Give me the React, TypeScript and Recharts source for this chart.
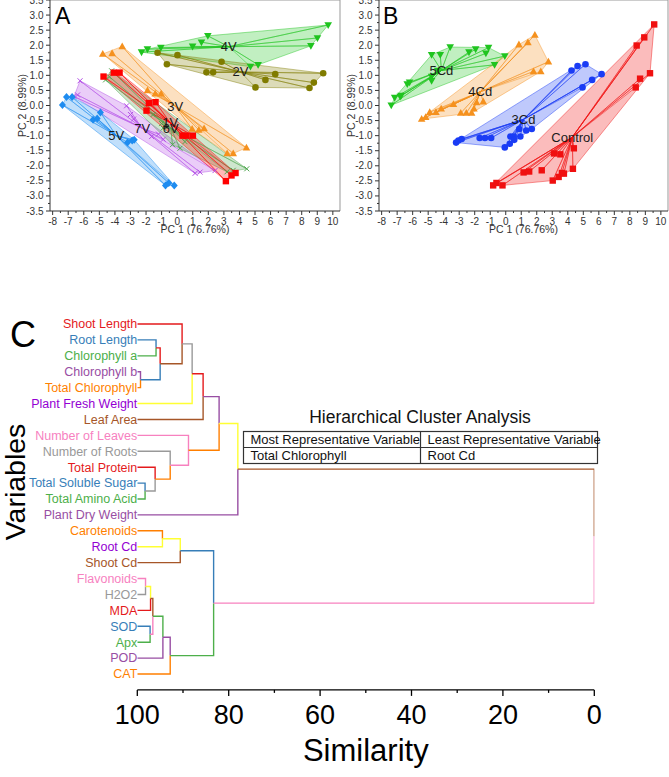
import React from 'react';
import { ScatterChart, Scatter, XAxis, YAxis, ReferenceLine, Label } from 'recharts';

type Pt = [number, number];

const FONT = '"Liberation Sans", Arial, Helvetica, sans-serif';

// ---------- PCA axes ----------
const pc1MajorTicks = [-8, -7, -6, -5, -4, -3, -2, -1, 0, 1, 2, 3, 4, 5, 6, 7, 8, 9, 10];
const pc2MajorTicks = [-3.5, -3, -2.5, -2, -1.5, -1, -0.5, 0, 0.5, 1, 1.5, 2, 2.5, 3, 3.5];
const pc1Domain: [number, number] = [-8.17, 10.46];
const pc2Domain: [number, number] = [-3.5, 3.5];
const pc1Title = 'PC 1 (76.76%)';
const pc2Title = 'PC 2 (8.99%)';

// ---------- Panel A (varieties) ----------
const a4V: Pt[] = [[-2.29, 1.77], [-1.91, 1.87], [-1.05, 1.92], [0.99, 1.96], [1.56, 2.10], [1.97, 2.31], [9.70, 2.67], [9.01, 2.24], [8.59, 1.98], [5.20, 1.35], [4.71, 1.29]];
const a2V: Pt[] = [[-1.26, 1.75], [0.02, 1.67], [-0.66, 1.37], [2.85, 1.45], [1.88, 1.10], [2.31, 1.10], [5.67, 0.85], [6.30, 1.04], [9.38, 1.07], [8.78, 0.76], [8.50, 0.58], [5.03, 0.60]];
const a3V: Pt[] = [[-4.78, 1.71], [-4.18, 1.73], [-3.53, 1.96], [-1.91, 0.50], [-1.41, 0.39], [-1.03, 0.39], [0.96, -0.78], [1.39, -0.81], [1.73, -0.76], [4.45, -1.40], [3.60, -1.59], [3.21, -1.59]];
const a1V: Pt[] = [[-4.73, 0.96], [-4.07, 1.09], [-3.70, 1.09], [-1.82, 0.08], [-1.97, -0.17], [-1.39, 0.11], [0.34, -1.00], [0.60, -1.00], [1.01, -1.00], [3.13, -2.51], [3.49, -2.32], [3.75, -2.24]];
const a6V: Pt[] = [[-4.21, 1.15], [-4.60, 0.85], [-4.35, 0.95], [-1.55, -0.30], [-1.00, -0.60], [-0.90, -0.75], [0.18, -1.42], [-0.30, -1.30], [0.50, -1.20], [4.47, -2.10], [3.60, -2.15], [3.20, -2.20]];
const a7V: Pt[] = [[-6.24, 0.82], [-6.63, 0.30], [-6.40, 0.35], [-3.25, -0.01], [-3.00, -0.30], [-2.80, -0.45], [-1.64, -1.03], [-0.89, -1.12], [-1.20, -0.95], [1.15, -2.25], [1.47, -2.21], [2.43, -2.16]];
const a5V: Pt[] = [[-7.37, 0.02], [-7.11, 0.28], [-6.75, 0.28], [-5.40, -0.47], [-5.14, -0.43], [-4.93, -0.23], [-3.19, -1.23], [-2.89, -1.16], [-2.76, -1.14], [-0.75, -2.65], [-0.54, -2.57], [-0.19, -2.65]];

// ---------- Panel B (Cd treatments) ----------
const b5Cd: Pt[] = [[-7.38, 0.01], [-7.16, 0.26], [-6.80, 0.30], [-6.74, 0.33], [-6.35, 0.71], [-6.20, 0.77], [-4.78, 1.68], [-4.22, 1.68], [-3.58, 1.94], [-2.37, 1.77], [-1.94, 1.87], [-1.28, 1.73], [-1.11, 1.92], [-0.72, 1.35], [-0.06, 1.64], [-4.78, 0.96], [-4.78, 0.82], [-4.39, 1.16]];
const b4Cd: Pt[] = [[-5.42, -0.45], [-5.16, -0.39], [-4.90, -0.22], [-4.50, -0.22], [-4.16, -0.11], [-3.37, 0.04], [-2.90, -0.25], [-2.54, -0.25], [-2.20, -0.25], [-2.05, -0.11], [-1.88, 0.10], [-1.45, 0.13], [0.85, 2.02], [1.43, 2.09], [1.88, 2.34], [2.75, 1.45], [1.79, 1.13], [2.26, 1.13]];
const b3Cd: Pt[] = [[-3.20, -1.23], [-3.05, -1.16], [-2.84, -1.11], [-1.68, -1.08], [-1.34, -1.08], [-0.94, -1.08], [-0.06, -1.39], [0.26, -1.27], [0.30, -1.03], [0.51, -1.03], [0.55, -1.14], [0.87, -0.78], [1.32, -0.83], [1.68, -0.78], [0.94, -1.03], [4.24, 1.16], [4.63, 1.31], [5.14, 1.37], [6.18, 1.04], [5.57, 0.85], [4.95, 0.60]];
const bControl: Pt[] = [[-0.81, -2.65], [-0.60, -2.57], [-0.21, -2.65], [1.15, -2.22], [1.51, -2.19], [2.32, -2.15], [3.11, -1.59], [3.52, -1.62], [4.39, -1.42], [4.33, -2.10], [3.03, -2.49], [3.41, -2.37], [3.62, -2.24], [3.75, -2.26], [8.44, 1.99], [8.93, 2.26], [9.57, 2.69], [9.30, 1.07], [8.66, 0.89], [8.38, 0.60]];

type Group = { name: string; points: Pt[]; color: string; marker: string };

const panelAGroups: Group[] = [
  { name: '4V', points: a4V, color: '#1fc41f', marker: 'tdown' },
  { name: '2V', points: a2V, color: '#807c00', marker: 'circle' },
  { name: '3V', points: a3V, color: '#f5911e', marker: 'tup' },
  { name: '7V', points: a7V, color: '#b24ce6', marker: 'x' },
  { name: '6V', points: a6V, color: '#4fa64f', marker: 'x' },
  { name: '1V', points: a1V, color: '#ff0000', marker: 'square' },
  { name: '5V', points: a5V, color: '#1e8cf0', marker: 'diamond' },
];

const panelBGroups: Group[] = [
  { name: '5Cd', points: b5Cd, color: '#1fc41f', marker: 'tdown' },
  { name: '4Cd', points: b4Cd, color: '#f5911e', marker: 'tup' },
  { name: '3Cd', points: b3Cd, color: '#1a3cf5', marker: 'circle' },
  { name: 'Control', points: bControl, color: '#f01010', marker: 'square' },
];

// ---------- Dendrogram ----------
const leafNames = ['Shoot Length', 'Root Length', 'Chlorophyll a', 'Chlorophyll b', 'Total Chlorophyll', 'Plant Fresh Weight', 'Leaf Area', 'Number of Leaves', 'Number of Roots', 'Total Protein', 'Total Soluble Sugar', 'Total Amino Acid', 'Plant Dry Weight', 'Carotenoids', 'Root Cd', 'Shoot Cd', 'Flavonoids', 'H2O2', 'MDA', 'SOD', 'Apx', 'POD', 'CAT'];
const RED = '#e41a1c', BLUE = '#377eb8', GREEN = '#4daf4a', PURPLE = '#984ea3', ORANGE = '#ff7f00', YELLOW = '#ffff33', BROWN = '#a65628', PINK = '#f781bf', GREY = '#999999', VIOLET = '#9400d3';
const leafLabelColors = [RED, BLUE, GREEN, PURPLE, ORANGE, VIOLET, BROWN, PINK, GREY, RED, BLUE, GREEN, PURPLE, ORANGE, VIOLET, BROWN, PINK, GREY, RED, BLUE, GREEN, PURPLE, ORANGE];
const leafLegColors = [RED, BLUE, GREEN, PURPLE, ORANGE, YELLOW, BROWN, PINK, GREY, RED, BLUE, GREEN, PURPLE, ORANGE, YELLOW, BROWN, PINK, GREY, RED, BLUE, GREEN, PURPLE, ORANGE];
// [childA, childB, similarity] ; new node ids start at 23
const merges: [number, number, number][] = [
  [1, 2, 95.9], [3, 4, 99.3], [23, 24, 95.0], [0, 25, 90.2], [26, 5, 88.0], [27, 6, 85.6],
  [10, 11, 98.3], [9, 29, 96.1], [8, 30, 92.8], [7, 31, 88.8], [28, 32, 82.1], [33, 12, 78.0],
  [13, 14, 94.5], [35, 15, 90.6], [16, 17, 98.2], [37, 18, 97.1], [19, 20, 97.2], [38, 39, 96.6],
  [40, 21, 94.4], [41, 22, 92.8], [36, 42, 83.3], [34, 43, 0],
];
const mergeColors = [RED, BLUE, BROWN, GREY, RED, PURPLE, GREY, ORANGE, PINK, ORANGE, YELLOW, BROWN, YELLOW, BLUE, YELLOW, BROWN, PINK, GREEN, PURPLE, GREEN, PINK, ''];
const simMajorTicks = [0, 20, 40, 60, 80, 100];
const simAllTicks = [0, 10, 20, 30, 40, 50, 60, 70, 80, 90, 100];
const tableHeaders = ['Most Representative Variable', 'Least Representative Variable'];
const tableValues = ['Total Chlorophyll', 'Root Cd'];

// ---------- helpers ----------
function convexHull(pts: Pt[]): Pt[] {
  const s = [...pts].sort((a, b) => a[0] - b[0] || a[1] - b[1]);
  const cross = (o: Pt, a: Pt, b: Pt) => (a[0] - o[0]) * (b[1] - o[1]) - (a[1] - o[1]) * (b[0] - o[0]);
  const lower: Pt[] = [];
  for (const p of s) {
    while (lower.length >= 2 && cross(lower[lower.length - 2], lower[lower.length - 1], p) <= 0) lower.pop();
    lower.push(p);
  }
  const upper: Pt[] = [];
  for (let i = s.length - 1; i >= 0; i--) {
    const p = s[i];
    while (upper.length >= 2 && cross(upper[upper.length - 2], upper[upper.length - 1], p) <= 0) upper.pop();
    upper.push(p);
  }
  upper.pop();
  lower.pop();
  return lower.concat(upper);
}
const centroid = (pts: Pt[]): Pt => [pts.reduce((s, p) => s + p[0], 0) / pts.length, pts.reduce((s, p) => s + p[1], 0) / pts.length];
const toXY = (p: Pt) => ({ x: p[0], y: p[1] });
const midpoints = (arr: number[]) => arr.slice(0, -1).map((v, i) => (v + arr[i + 1]) / 2);
const pc1AllTicks = [...pc1MajorTicks, ...midpoints(pc1MajorTicks)].sort((a, b) => a - b);
const pc2AllTicks = [...pc2MajorTicks, ...midpoints(pc2MajorTicks)].sort((a, b) => a - b);
const isMajor = (v: number, arr: number[]) => arr.some((m) => Math.abs(m - v) < 1e-9);

const Empty = () => <g />;

function Marker({ cx, cy, kind, color }: { cx: number; cy: number; kind: string; color: string }) {
  switch (kind) {
    case 'square':
      return <rect x={cx - 3.2} y={cy - 3.2} width={6.4} height={6.4} fill={color} />;
    case 'circle':
      return <circle cx={cx} cy={cy} r={3.3} fill={color} />;
    case 'tup':
      return <polygon points={`${cx},${cy - 4} ${cx + 3.8},${cy + 2.8} ${cx - 3.8},${cy + 2.8}`} fill={color} />;
    case 'tdown':
      return <polygon points={`${cx},${cy + 4} ${cx + 3.8},${cy - 2.8} ${cx - 3.8},${cy - 2.8}`} fill={color} />;
    case 'diamond':
      return <polygon points={`${cx},${cy - 4} ${cx + 3.5},${cy} ${cx},${cy + 4} ${cx - 3.5},${cy}`} fill={color} />;
    default:
      return (
        <g stroke={color} strokeWidth={1}>
          <line x1={cx - 2.5} y1={cy - 2.5} x2={cx + 2.5} y2={cy + 2.5} />
          <line x1={cx - 2.5} y1={cy + 2.5} x2={cx + 2.5} y2={cy - 2.5} />
        </g>
      );
  }
}

const PcXTick = (p: any) => {
  const v = p.payload.value;
  const major = isMajor(v, pc1MajorTicks);
  return (
    <g>
      <line x1={p.x} x2={p.x} y1={p.y} y2={p.y + (major ? 4 : 2)} stroke="#333" />
      {major && (
        <text x={p.x} y={p.y + 13.5} textAnchor="middle" fontSize={10} fill="#333">
          {v}
        </text>
      )}
    </g>
  );
};

const PcYTick = (p: any) => {
  const v = p.payload.value;
  const major = isMajor(v, pc2MajorTicks);
  return (
    <g>
      <line x1={p.x} x2={p.x - (major ? 4 : 2)} y1={p.y} y2={p.y} stroke="#333" />
      {major && (
        <text x={p.x - 6.5} y={p.y + 3.5} textAnchor="end" fontSize={10} fill="#333">
          {v.toFixed(1)}
        </text>
      )}
    </g>
  );
};

function PcaPanel({ groups, left, width, marginRight }: { groups: Group[]; left: number; width: number; marginRight: number }) {
  const hulls = groups.map((g) => (
    <Scatter
      key={'hull-' + g.name}
      data={convexHull(g.points).map(toXY)}
      isAnimationActive={false}
      shape={Empty}
      line={(lp: any) => (
        <polygon
          points={lp.points.map((q: any) => `${q.x},${q.y}`).join(' ')}
          fill={g.color}
          fillOpacity={0.28}
          stroke={g.color}
          strokeOpacity={0.55}
          strokeWidth={0.8}
        />
      )}
    />
  ));
  const stars = groups.map((g) => {
    const c = centroid(g.points);
    const data = g.points.flatMap((p) => [toXY(c), toXY(p)]);
    return (
      <Scatter
        key={'star-' + g.name}
        data={data}
        isAnimationActive={false}
        shape={Empty}
        line={{ stroke: g.color, strokeWidth: 0.7, strokeOpacity: 0.65 }}
      />
    );
  });
  const pts = groups.map((g) => (
    <Scatter
      key={'pts-' + g.name}
      data={g.points.map(toXY)}
      isAnimationActive={false}
      shape={(sp: any) => <Marker cx={sp.cx} cy={sp.cy} kind={g.marker} color={g.color} />}
    />
  ));
  const labels = groups.map((g) => (
    <Scatter
      key={'lab-' + g.name}
      data={[toXY(centroid(g.points))]}
      isAnimationActive={false}
      shape={(sp: any) => (
        <text x={sp.cx} y={sp.cy + 4.5} textAnchor="middle" fontSize={13} fill="#1a1a1a">
          {g.name}
        </text>
      )}
    />
  ));
  return (
    <div style={{ position: 'absolute', left, top: 0, fontFamily: FONT }}>
      <ScatterChart width={width} height={241} margin={{ top: 0, right: marginRight, bottom: 0, left: 0 }}>
        <XAxis
          type="number"
          dataKey="x"
          domain={pc1Domain}
          allowDataOverflow
          ticks={pc1AllTicks}
          interval={0}
          height={30}
          tickSize={0}
          tickMargin={0}
          tickLine={false}
          axisLine={{ stroke: '#333' }}
          tick={PcXTick}
        >
          <Label value={pc1Title} position="insideBottom" offset={8} style={{ fontSize: 10.5, fill: '#333' }} />
        </XAxis>
        <YAxis
          type="number"
          dataKey="y"
          domain={pc2Domain}
          allowDataOverflow
          ticks={pc2AllTicks}
          interval={0}
          width={50}
          tickSize={0}
          tickMargin={0}
          tickLine={false}
          axisLine={{ stroke: '#333' }}
          tick={PcYTick}
        >
          <Label value={pc2Title} angle={-90} position="insideLeft" offset={22} style={{ fontSize: 10.5, fill: '#333', textAnchor: 'middle' }} />
        </YAxis>
        <ReferenceLine y={pc2Domain[1]} stroke="#999" />
        <ReferenceLine x={pc1Domain[1]} stroke="#999" />
        {hulls}
        {stars}
        {pts}
        {labels}
      </ScatterChart>
    </div>
  );
}

// build dendrogram legs from merges
const nodeY: number[] = leafNames.map((_, i) => i + 1);
const nodeSim: number[] = leafNames.map(() => 100);
const nodeColor: string[] = [...leafLegColors];
const legs: { color: string; pts: { x: number; y: number }[] }[] = [];
merges.forEach(([a, b, sim], k) => {
  const id = leafNames.length + k;
  const y = (nodeY[a] + nodeY[b]) / 2;
  nodeY[id] = y;
  nodeSim[id] = sim;
  nodeColor[id] = mergeColors[k];
  [a, b].forEach((c) =>
    legs.push({
      color: nodeColor[c],
      pts: [
        { x: nodeSim[c], y: nodeY[c] },
        { x: sim, y: nodeY[c] },
        { x: sim, y },
      ],
    })
  );
});
const rowTicks = leafNames.map((_, i) => i + 1);

const SimTick = (p: any) => {
  const v = p.payload.value;
  const major = simMajorTicks.includes(v);
  return (
    <g>
      <line x1={p.x} x2={p.x} y1={p.y} y2={p.y + (major ? 6 : 3)} stroke="#000" strokeWidth={1.3} />
      {major && (
        <text x={p.x} y={p.y + 34} textAnchor="middle" fontSize={27} fill="#000">
          {v}
        </text>
      )}
    </g>
  );
};

const LeafTick = (p: any) => {
  const i = Math.round(p.payload.value) - 1;
  return (
    <text x={p.x} y={p.y + 4.4} textAnchor="end" fontSize={12.5} fill={leafLabelColors[i]}>
      {leafNames[i]}
    </text>
  );
};

function Dendrogram() {
  return (
    <div style={{ position: 'absolute', left: 0, top: 300, fontFamily: FONT }}>
      <ScatterChart width={669} height={477} margin={{ top: 8.1, right: 74.7, bottom: 0, left: 0 }}>
        <XAxis
          type="number"
          dataKey="x"
          domain={[0, 100]}
          reversed
          allowDataOverflow
          ticks={simAllTicks}
          interval={0}
          height={87.1}
          tickSize={0}
          tickMargin={0}
          tickLine={false}
          axisLine={{ stroke: '#000', strokeWidth: 1.3 }}
          tick={SimTick}
        >
          <Label value="Similarity" position="insideBottom" offset={16} style={{ fontSize: 31, fill: '#000' }} />
        </XAxis>
        <YAxis
          type="number"
          dataKey="y"
          domain={[0, 24]}
          reversed
          allowDataOverflow
          ticks={rowTicks}
          interval={0}
          width={137.3}
          tickSize={0}
          tickMargin={0}
          tickLine={false}
          axisLine={false}
          tick={LeafTick}
        />
        {legs.map((l, i) => (
          <Scatter
            key={'leg-' + i}
            data={l.pts}
            isAnimationActive={false}
            shape={Empty}
            line={{ stroke: l.color, strokeWidth: 1.4 }}
          />
        ))}
      </ScatterChart>
    </div>
  );
}

function Overlay() {
  return (
    <svg width={669} height={777} style={{ position: 'absolute', left: 0, top: 0, pointerEvents: 'none', fontFamily: FONT }}>
      <text x={55} y={24} fontSize={23} fill="#000">A</text>
      <text x={383} y={24} fontSize={23} fill="#000">B</text>
      <text x={10} y={347} fontSize={36} fill="#000">C</text>
      <text transform="translate(25,482) rotate(-90)" textAnchor="middle" fontSize={28.5} fill="#000">Variables</text>
      <text x={420} y={423} textAnchor="middle" fontSize={17.5} fill="#111">Hierarchical Cluster Analysis</text>
      <rect x={243.5} y={431.5} width={354} height={32} fill="none" stroke="#333" strokeWidth={1.2} />
      <line x1={243.5} x2={597.5} y1={447.5} y2={447.5} stroke="#333" strokeWidth={1.2} />
      <line x1={420.5} x2={420.5} y1={431.5} y2={463.5} stroke="#333" strokeWidth={1.2} />
      <text x={250.5} y={444} fontSize={13} fill="#111">{tableHeaders[0]}</text>
      <text x={427.5} y={444} fontSize={13} fill="#111">{tableHeaders[1]}</text>
      <text x={250.5} y={460} fontSize={13} fill="#111">{tableValues[0]}</text>
      <text x={427.5} y={460} fontSize={13} fill="#111">{tableValues[1]}</text>
    </svg>
  );
}

export default function App() {
  return (
    <div style={{ position: 'absolute', left: 0, top: 0, width: 669, height: 777, overflow: 'hidden' }}>
      <PcaPanel groups={panelAGroups} left={0} width={345} marginRight={5} />
      <PcaPanel groups={panelBGroups} left={329} width={340} marginRight={1} />
      <Dendrogram />
      <Overlay />
    </div>
  );
}
